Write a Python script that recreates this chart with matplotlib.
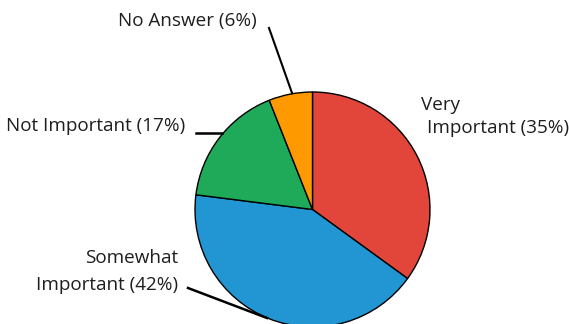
import matplotlib.pyplot as plt

# survey answers, clockwise from the top
labels = ["Very Important", "Somewhat Important", "Not Important", "No Answer"]
shares = [35, 42, 17, 6]
colors = ["#E2453A", "#2196D2", "#1FAA5A", "#FF9900"]

W, H = 569, 324
fig = plt.figure(figsize=(W / 100, H / 100), dpi=100)
ax = fig.add_axes([0, 0, 1, 1])

cx, cy, r = 312.5, H - 209.5, 117.5
ax.pie(shares, colors=colors, startangle=90, counterclock=False,
       center=(cx, cy), radius=r,
       wedgeprops=dict(edgecolor="black", linewidth=1.0))
ax.set_xlim(0, W)
ax.set_ylim(0, H)
ax.set_aspect("equal")
ax.axis("off")

font = dict(family="Open Sans", fontsize=13.6, color="#1e1e1e", va="baseline")

# label lines, positions in pixels from the top left (baselines)
ax.text(421, H - 110, "Very", ha="left", **font)
ax.text(427, H - 133, "Important (%d%%)" % shares[0], ha="left", **font)
ax.text(178, H - 263, "Somewhat", ha="right", **font)
ax.text(178, H - 290, "Important (%d%%)" % shares[1], ha="right", **font)
ax.text(185, H - 131, "Not Important (%d%%)" % shares[2], ha="right", **font)
ax.text(257, H - 26, "No Answer (%d%%)" % shares[3], ha="right", **font)

# leader lines
ax.plot([269, 292], [H - 28, H - 93], color="black", lw=1.5)
ax.plot([196, 222], [H - 133, H - 133], color="black", lw=1.8)
ax.plot([188, 267], [H - 288, H - 318], color="black", lw=1.8)

fig.savefig("out.png", dpi=100)
